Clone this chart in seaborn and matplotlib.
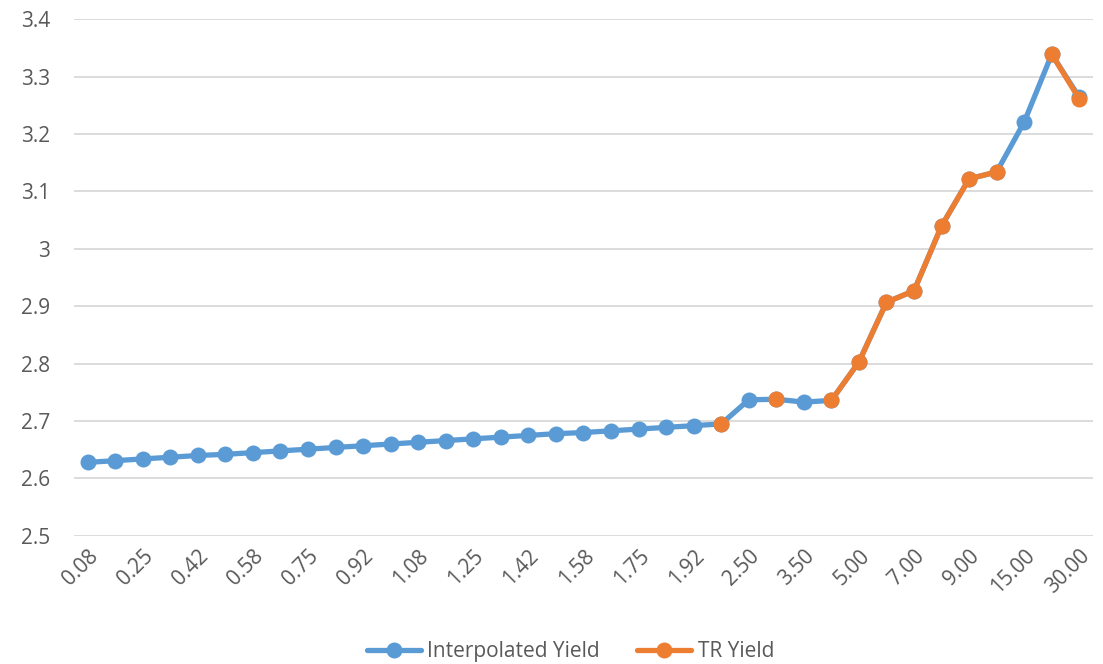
import numpy as np
import pandas as pd
import matplotlib
matplotlib.use("Agg")
import matplotlib.pyplot as plt
import seaborn as sns
from matplotlib.lines import Line2D

tenors = ["0.08", "0.17", "0.25", "0.33", "0.42", "0.50", "0.58", "0.67", "0.75", "0.83",
          "0.92", "1.00", "1.08", "1.17", "1.25", "1.33", "1.42", "1.50", "1.58", "1.67",
          "1.75", "1.83", "1.92", "2.00", "2.50", "3.00", "3.50", "4.00", "5.00", "6.00",
          "7.00", "8.00", "9.00", "10.00", "15.00", "20.00", "30.00"]

interpolated_yield = [2.628, 2.631, 2.634, 2.637, 2.640, 2.642, 2.645, 2.648, 2.651, 2.654,
                      2.657, 2.660, 2.663, 2.666, 2.669, 2.672, 2.675, 2.678, 2.680, 2.683,
                      2.686, 2.689, 2.692, 2.695, 2.737, 2.738, 2.733, 2.736, 2.803, 2.907,
                      2.927, 3.040, 3.122, 3.134, 3.221, 3.339, 3.264]

tr_yield = [None] * 23 + [2.695, None, 2.738, None, 2.736, 2.803, 2.907,
                          2.927, 3.040, 3.122, 3.134, None, 3.339, 3.261]

ytick_values = [2.5, 2.6, 2.7, 2.8, 2.9, 3.0, 3.1, 3.2, 3.3, 3.4]
ytick_labels = ["2.5", "2.6", "2.7", "2.8", "2.9", "3", "3.1", "3.2", "3.3", "3.4"]

BLUE = "#5B9BD5"
ORANGE = "#ED7D31"
GREY = "#595959"
LW = 3.8
MS = 11.5

sns.set_theme(style="white")
plt.rcParams["font.family"] = ["Open Sans", "DejaVu Sans"]

df_interp = pd.DataFrame({"tenor": tenors, "yield": interpolated_yield})

# TR yield: split into contiguous segments so gaps stay open
seg_ids = []
seg = 0
prev_valid = False
for v in tr_yield:
    valid = v is not None
    if valid and not prev_valid:
        seg += 1
    seg_ids.append(seg if valid else np.nan)
    prev_valid = valid
df_tr = pd.DataFrame({"tenor": tenors, "yield": [np.nan if v is None else v for v in tr_yield],
                      "seg": seg_ids}).dropna()

fig, ax = plt.subplots(figsize=(11.03, 6.64), dpi=100)
fig.subplots_adjust(left=0.067, right=0.991, top=0.971, bottom=0.193)

sns.lineplot(data=df_interp, x="tenor", y="yield", ax=ax, color=BLUE, linewidth=LW,
             marker="o", markersize=MS, markeredgewidth=0, sort=False)
sns.lineplot(data=df_tr, x="tenor", y="yield", units="seg", estimator=None, ax=ax,
             color=ORANGE, linewidth=LW, marker="o", markersize=MS,
             markeredgewidth=0, sort=False)

ax.set_xlim(-0.5, len(tenors) - 0.5)
ax.set_ylim(2.5, 3.4)
ax.set_yticks(ytick_values)
ax.set_yticklabels(ytick_labels)
ax.set_xticks(range(0, len(tenors), 2))
ax.set_xticklabels(tenors[::2], rotation=45, ha="right", rotation_mode="anchor")

ax.tick_params(axis="both", length=0, labelsize=15, colors=GREY)
ax.tick_params(axis="y", pad=17)
ax.tick_params(axis="x", pad=7)
ax.yaxis.grid(True, color="#D9D9D9", linewidth=1.3)
ax.xaxis.grid(False)
for s in ax.spines.values():
    s.set_visible(False)
ax.set_xlabel("")
ax.set_ylabel("")
if ax.get_legend():
    ax.get_legend().remove()

handles = [Line2D([0], [0], color=BLUE, lw=LW, marker="o", markersize=MS, markeredgewidth=0),
           Line2D([0], [0], color=ORANGE, lw=LW, marker="o", markersize=MS, markeredgewidth=0)]
fig.legend(handles, ["Interpolated Yield", "TR Yield"], loc="center",
           bbox_to_anchor=(0.517, 0.019), ncol=2, frameon=False, fontsize=15,
           labelcolor=GREY, handlelength=2.6, columnspacing=1.8, handletextpad=0.3)

fig.savefig("out.png", dpi=100)
